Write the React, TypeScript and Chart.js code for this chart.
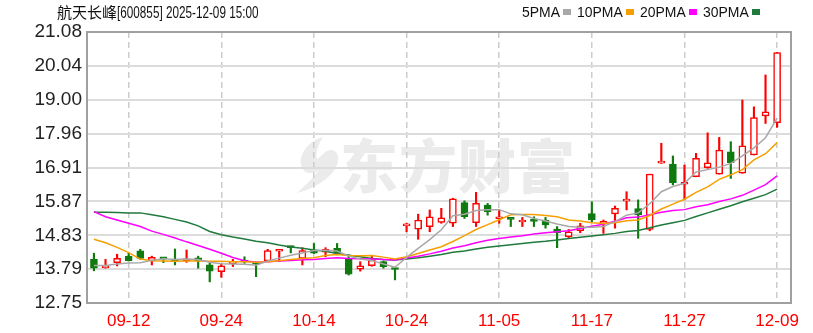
import React, { useEffect, useRef } from 'react';
import { Chart, registerables } from 'chart.js';

Chart.register(...registerables);

const dates = [
  '09-09', '09-10', '09-11', '09-12', '09-15', '09-16', '09-17', '09-18', '09-19', '09-22',
  '09-23', '09-24', '09-25', '09-26', '09-29', '09-30', '10-09', '10-10', '10-13', '10-14',
  '10-15', '10-16', '10-17', '10-20', '10-21', '10-22', '10-23', '10-24', '10-27', '10-28',
  '10-29', '10-30', '10-31', '11-03', '11-04', '11-05', '11-06', '11-07', '11-10', '11-11',
  '11-12', '11-13', '11-14', '11-17', '11-18', '11-19', '11-20', '11-21', '11-24', '11-25',
  '11-26', '11-27', '11-28', '12-01', '12-02', '12-03', '12-04', '12-05', '12-08', '12-09',
];

const opens = [
  14.09, 13.83, 13.99, 14.19, 14.35, 14.04, 14.13, 14.06, 14.05, 14.14,
  13.92, 13.71, 13.96, 14.03, 13.96, 14.04, 14.34, 14.47, 14.12, 14.38,
  14.31, 14.43, 14.09, 13.79, 13.90, 14.02, 13.80, 15.12, 15.02, 15.10,
  15.23, 15.20, 15.84, 15.22, 15.76, 15.34, 15.34, 15.24, 15.28, 15.30,
  15.02, 14.79, 14.97, 15.50, 15.20, 15.49, 15.88, 15.65, 15.01, 17.05,
  17.02, 16.40, 16.63, 16.91, 16.71, 17.40, 16.74, 17.30, 18.50, 18.29,
];
const highs = [
  14.28, 14.09, 14.25, 14.28, 14.40, 14.19, 14.15, 14.41, 14.38, 14.19,
  13.97, 13.95, 14.09, 14.17, 14.02, 14.40, 14.40, 14.50, 14.45, 14.58,
  14.45, 14.58, 14.23, 14.02, 14.19, 14.04, 13.82, 15.20, 15.48, 15.61,
  15.66, 15.97, 15.89, 16.15, 15.81, 15.61, 15.34, 15.38, 15.40, 15.38,
  15.10, 15.01, 15.20, 15.86, 15.30, 15.73, 16.17, 15.92, 16.71, 17.66,
  17.27, 16.99, 17.35, 17.98, 17.84, 17.71, 18.99, 18.78, 19.76, 20.45,
];
const lows = [
  13.74, 13.82, 13.89, 14.04, 14.09, 13.92, 13.99, 13.92, 14.00, 13.82,
  13.40, 13.54, 13.87, 13.97, 13.56, 14.02, 14.02, 14.29, 13.92, 14.27,
  14.17, 14.23, 13.61, 13.73, 13.88, 13.82, 13.46, 14.94, 14.71, 14.94,
  15.20, 15.10, 15.35, 15.10, 15.45, 15.20, 15.10, 15.10, 15.10, 15.05,
  14.45, 14.74, 14.91, 15.25, 14.89, 15.05, 15.61, 14.74, 14.97, 17.04,
  16.38, 15.92, 16.63, 16.89, 16.71, 16.58, 16.74, 17.30, 18.27, 18.15,
];
const closes = [
  13.82, 13.86, 14.12, 14.05, 14.12, 14.15, 14.11, 14.04, 14.08, 14.05,
  13.73, 13.89, 14.00, 14.01, 13.94, 14.36, 14.36, 14.45, 14.36, 14.28,
  14.40, 14.28, 13.64, 13.89, 14.07, 13.87, 13.78, 15.15, 15.30, 15.40,
  15.37, 15.95, 15.40, 15.81, 15.56, 15.36, 15.32, 15.26, 15.26, 15.15,
  14.91, 14.94, 15.12, 15.30, 15.24, 15.66, 15.94, 15.46, 16.71, 17.09,
  16.45, 16.43, 17.20, 17.06, 17.45, 17.06, 17.58, 18.45, 18.63, 20.45,
];

const ma5 = [
  13.90, 13.90, 13.95, 13.98, 13.99, 14.06, 14.11, 14.09, 14.10, 14.09,
  14.00, 13.96, 13.95, 13.94, 13.91, 14.04, 14.13, 14.22, 14.29, 14.36,
  14.37, 14.35, 14.19, 14.10, 14.06, 13.95, 13.85, 14.15, 14.43, 14.70,
  15.00, 15.43, 15.48, 15.59, 15.62, 15.62, 15.49, 15.46, 15.35, 15.27,
  15.18, 15.10, 15.08, 15.08, 15.10, 15.25, 15.45, 15.52, 15.80, 16.17,
  16.33, 16.43, 16.78, 16.85, 16.92, 17.04, 17.27, 17.52, 17.83, 18.43,
];
const ma10 = [
  14.71, 14.60, 14.46, 14.30, 14.10, 14.05, 14.04, 14.03, 14.04, 14.04,
  14.03, 14.03, 14.02, 14.02, 14.00, 14.02, 14.05, 14.09, 14.12, 14.14,
  14.21, 14.24, 14.21, 14.20, 14.21, 14.16, 14.10, 14.17, 14.27, 14.38,
  14.48, 14.64, 14.82, 15.01, 15.16, 15.31, 15.46, 15.47, 15.47, 15.44,
  15.40, 15.30, 15.27, 15.22, 15.19, 15.22, 15.28, 15.30, 15.44, 15.64,
  15.79, 15.94, 16.15, 16.32, 16.55, 16.69, 16.85, 17.15, 17.34, 17.68,
];
const ma20 = [
  15.56, 15.40, 15.30, 15.20, 15.10, 14.96, 14.86, 14.75, 14.63, 14.52,
  14.40, 14.28, 14.15, 14.05, 14.00, 14.02, 14.04, 14.06, 14.08, 14.09,
  14.12, 14.14, 14.12, 14.11, 14.10, 14.09, 14.07, 14.13, 14.19, 14.26,
  14.34, 14.44, 14.51, 14.60, 14.68, 14.73, 14.78, 14.82, 14.87, 14.91,
  14.94, 14.97, 15.04, 15.11, 15.17, 15.26, 15.37, 15.39, 15.46, 15.54,
  15.59, 15.62, 15.71, 15.77, 15.87, 15.95, 16.06, 16.22, 16.39, 16.66,
];
const ma30 = [
  15.54, 15.54, 15.53, 15.52, 15.52, 15.46, 15.40, 15.32, 15.24, 15.12,
  14.95, 14.85, 14.78, 14.72, 14.65, 14.60, 14.53, 14.47, 14.43, 14.38,
  14.34, 14.27, 14.22, 14.17, 14.12, 14.09, 14.07, 14.10, 14.14, 14.19,
  14.24, 14.31, 14.35, 14.41, 14.46, 14.50, 14.54, 14.58, 14.62, 14.65,
  14.69, 14.73, 14.77, 14.81, 14.85, 14.89, 14.95, 14.98, 15.06, 15.15,
  15.22, 15.29, 15.41, 15.52, 15.63, 15.74, 15.86, 15.97, 16.08, 16.25,
];

const yTicks = [12.75, 13.79, 14.83, 15.87, 16.91, 17.96, 19.0, 20.04, 21.08];
const xTickLabels = ['09-12', '09-24', '10-14', '10-24', '11-05', '11-17', '11-27', '12-09'];

const stockName = '航天长峰';
const stockInfo = '[600855] 2025-12-09 15:00';
const maNames = ['5PMA', '10PMA', '20PMA', '30PMA'];
const maColors = ['#a8a8a8', '#f5a000', '#ff00ff', '#1f7a3c'];
const RED = '#ff0000';
const GREEN = '#0f7a0f';

export default function App() {
  const ref = useRef<HTMLCanvasElement>(null);

  useEffect(() => {
    if (!ref.current) return;
    const idx = dates.map((_, i) => i);
    const up = idx.map((i) => closes[i] >= opens[i]);
    const wick = idx.map((i) => ({ x: i, y: [lows[i], highs[i]] }));
    const body = idx.map((i) => ({ x: i, y: [opens[i], closes[i]] }));
    const toLine = (arr: number[]) => arr.map((v, i) => ({ x: i, y: v }));
    const tickIdx = xTickLabels.map((l) => dates.indexOf(l));
    const mas = [ma5, ma10, ma20, ma30];

    const framePlugin = {
      id: 'frame',
      afterDraw(chart: any) {
        const { ctx, chartArea: a } = chart;
        ctx.save();
        ctx.strokeStyle = '#a0a0a0';
        ctx.lineWidth = 2;
        ctx.strokeRect(a.left, a.top, a.right - a.left, a.bottom - a.top);
        ctx.restore();
      },
    };

    const chart = new Chart(ref.current, {
      type: 'bar',
      data: {
        datasets: [
          ...mas.map((m, k) => ({
            type: 'line' as const,
            label: maNames[k],
            data: toLine(m),
            borderColor: maColors[k],
            borderWidth: 1.5,
            pointRadius: 0,
            tension: 0,
            order: 1,
          })),
          {
            type: 'bar' as const,
            label: 'body',
            data: body as any,
            barThickness: 7,
            backgroundColor: up.map((u) => (u ? '#ffffff' : GREEN)),
            borderColor: up.map((u) => (u ? RED : GREEN)),
            borderWidth: 1.5,
            borderSkipped: false,
            minBarLength: 2,
            grouped: false,
            order: 5,
          },
          {
            type: 'bar' as const,
            label: 'wick',
            data: wick as any,
            barThickness: 1.5,
            backgroundColor: up.map((u) => (u ? RED : GREEN)),
            borderWidth: 0,
            grouped: false,
            order: 6,
          },
        ],
      },
      options: {
        animation: false,
        responsive: false,
        devicePixelRatio: 1,
        layout: { padding: { top: 32, right: 22, left: 0, bottom: 0 } },
        plugins: { legend: { display: false }, tooltip: { enabled: false }, title: { display: false } },
        scales: {
          x: {
            type: 'linear',
            min: -0.6,
            max: 60.2,
            offset: false,
            afterBuildTicks: (s: any) => {
              s.ticks = tickIdx.map((v) => ({ value: v }));
            },
            afterFit: (s: any) => {
              s.height = 30;
            },
            ticks: {
              autoSkip: false,
              maxRotation: 0,
              color: RED,
              padding: 8,
              font: { family: '"Liberation Sans", Arial, sans-serif', size: 17 },
              callback: (v: any) => dates[Math.round(Number(v))] ?? '',
            },
            grid: { color: '#cccccc', lineWidth: 1.5, drawTicks: false, offset: false },
            border: { display: false, dash: [6, 4] },
          },
          y: {
            type: 'linear',
            min: 12.75,
            max: 21.08,
            afterBuildTicks: (s: any) => {
              s.ticks = yTicks.map((v) => ({ value: v }));
            },
            afterFit: (s: any) => {
              s.width = 87;
            },
            ticks: {
              color: '#222222',
              padding: 5,
              font: { family: '"Liberation Sans", Arial, sans-serif', size: 19 },
              callback: (v: any) => Number(v).toFixed(2),
            },
            grid: { color: '#dcdcdc', lineWidth: 2, drawTicks: false },
            border: { display: false },
          },
        },
      },
      plugins: [framePlugin],
    } as any);

    return () => chart.destroy();
  }, []);

  return (
    <div style={{ position: 'absolute', left: 0, top: 0, width: 813, height: 333, background: '#ffffff', overflow: 'hidden' }}>
      <svg
        width={50}
        height={60}
        viewBox="0 0 50 60"
        style={{ position: 'absolute', left: 293, top: 135 }}
      >
        <path
          d="M30 2 C16 6 6 18 8 30 C10 40 22 40 26 34 C20 44 10 52 4 58 C20 54 38 44 44 30 C48 20 42 12 34 16 C30 18 28 22 24 24 C22 18 26 8 30 2 Z"
          fill="#ebebeb"
        />
      </svg>
      <div
        style={{
          position: 'absolute',
          left: 340,
          top: 128,
          fontFamily: '"Noto Sans CJK SC", sans-serif',
          fontWeight: 900,
          fontSize: 58,
          lineHeight: '70px',
          color: '#ebebeb',
          letterSpacing: 1,
          whiteSpace: 'nowrap',
        }}
      >
        东方财富
      </div>
      <canvas ref={ref} width={813} height={333} style={{ position: 'absolute', left: 0, top: 0 }} />
      <div
        style={{
          position: 'absolute',
          left: 57,
          top: 2,
          fontFamily: '"Noto Sans CJK SC", sans-serif',
          fontSize: 15,
          lineHeight: '20px',
          color: '#111',
          whiteSpace: 'nowrap',
        }}
      >
        <span>{stockName}</span>
        <span
          style={{
            display: 'inline-block',
            fontFamily: '"Liberation Sans", Arial, sans-serif',
            fontSize: 17,
            transform: 'scaleX(0.69)',
            transformOrigin: 'left center',
          }}
        >
          {stockInfo}
        </span>
      </div>
      <div
        style={{
          position: 'absolute',
          left: 522,
          top: 2,
          fontFamily: '"Liberation Sans", Arial, sans-serif',
          fontSize: 15,
          lineHeight: '20px',
          color: '#111',
          whiteSpace: 'nowrap',
          display: 'flex',
          alignItems: 'center',
        }}
      >
        {maNames.map((n, k) => (
          <span key={n} style={{ display: 'inline-flex', alignItems: 'center', marginRight: 6 }}>
            <span style={{ display: 'inline-block', transform: 'scaleX(0.93)', transformOrigin: 'left center', width: n.length === 4 ? 38 : 46 }}>{n}</span>
            <span style={{ display: 'inline-block', width: 8, height: 6, background: maColors[k], marginLeft: 3 }} />
          </span>
        ))}
      </div>
    </div>
  );
}
